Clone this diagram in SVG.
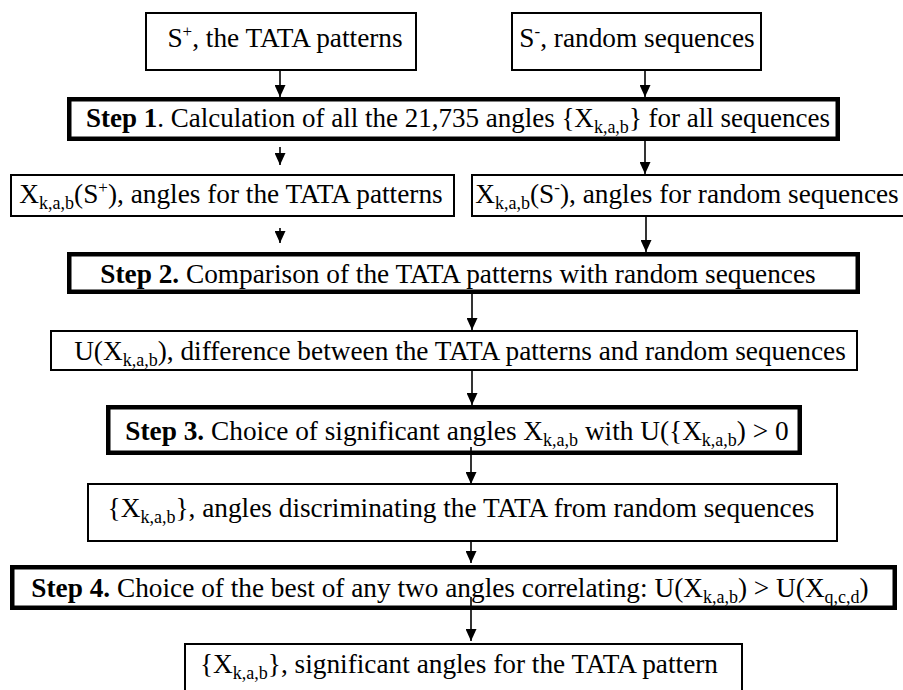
<svg xmlns="http://www.w3.org/2000/svg" width="903" height="690" viewBox="0 0 903 690">
<style>
.box{fill:#fff;stroke:#000;stroke-width:2}
.step{fill:#fff;stroke:#000;stroke-width:4.5}
.t{font-family:"Liberation Serif","Times New Roman",serif;font-size:27.3px;fill:#000;text-anchor:middle}
.b{font-weight:bold}
.s{font-size:18px}
.p{font-size:17px}
.c{stroke:#000;stroke-width:1.6;fill:none}
</style>
<defs>
<marker id="ah" markerUnits="userSpaceOnUse" markerWidth="13" markerHeight="11" refX="12" refY="5.5" orient="auto">
<path d="M0,0 L12,5.5 L0,11 Z" fill="#000"/>
</marker>
</defs>
<g id="n-splus">
<rect class="box" x="146" y="13" width="270" height="57"/>
<text class="t" x="285" y="47">S<tspan class="p" dy="-10">+</tspan><tspan dy="10">, the TATA patterns</tspan></text>
</g>
<g id="n-sminus">
<rect class="box" x="512" y="13" width="249" height="57"/>
<text class="t" x="637" y="47">S<tspan class="p" dy="-10">-</tspan><tspan dy="10">, random sequences</tspan></text>
</g>
<g id="n-step1">
<rect class="step" x="69.25" y="99.25" width="768.5" height="39.5"/>
<text class="t" x="458" y="127" style="font-size:27px"><tspan class="b">Step 1</tspan>. Calculation of all the 21,735 angles {X<tspan class="s" dy="5.5">k,a,b</tspan><tspan dy="-5.5">} for all sequences</tspan></text>
</g>
<g id="n-xplus">
<rect class="box" x="11" y="175" width="443" height="41"/>
<text class="t" x="231" y="203">X<tspan class="s" dy="5.5">k,a,b</tspan><tspan dy="-5.5">(S</tspan><tspan class="p" dy="-10">+</tspan><tspan dy="10">), angles for the TATA patterns</tspan></text>
</g>
<g id="n-xminus">
<rect class="box" x="472" y="175" width="440" height="41"/>
<text class="t" x="687" y="203">X<tspan class="s" dy="5.5">k,a,b</tspan><tspan dy="-5.5">(S</tspan><tspan class="p" dy="-10">-</tspan><tspan dy="10">), angles for random sequences</tspan></text>
</g>
<g id="n-step2">
<rect class="step" x="69.25" y="254.25" width="788.5" height="37.5"/>
<text class="t" x="458" y="283"><tspan class="b">Step 2.</tspan> Comparison of the TATA patterns with random sequences</text>
</g>
<g id="n-u">
<rect class="box" x="51" y="331" width="806" height="39"/>
<text class="t" x="460" y="360">U(X<tspan class="s" dy="5.5">k,a,b</tspan><tspan dy="-5.5">), difference between the TATA patterns and random sequences</tspan></text>
</g>
<g id="n-step3">
<rect class="step" x="108.25" y="407.25" width="691.5" height="45.5"/>
<text class="t" x="457" y="440"><tspan class="b">Step 3.</tspan> Choice of significant angles X<tspan class="s" dy="5.5">k,a,b</tspan><tspan dy="-5.5"> with U({X</tspan><tspan class="s" dy="5.5">k,a,b</tspan><tspan dy="-5.5">) &gt; 0</tspan></text>
</g>
<g id="n-discr">
<rect class="box" x="88" y="484" width="749" height="57"/>
<text class="t" x="461" y="517">{X<tspan class="s" dy="5.5">k,a,b</tspan><tspan dy="-5.5">}, angles discriminating the TATA from random sequences</tspan></text>
</g>
<g id="n-step4">
<rect class="step" x="12.25" y="567.25" width="882.5" height="40.5"/>
<text class="t" x="450" y="597"><tspan class="b">Step 4.</tspan> Choice of the best of any two angles correlating: U(X<tspan class="s" dy="5.5">k,a,b</tspan><tspan dy="-5.5">) &gt; U(X</tspan><tspan class="s" dy="5.5">q,c,d</tspan><tspan dy="-5.5">)</tspan></text>
</g>
<g id="n-final">
<rect class="box" x="185" y="644" width="557" height="60"/>
<text class="t" x="459" y="673">{X<tspan class="s" dy="5.5">k,a,b</tspan><tspan dy="-5.5">}, significant angles for the TATA pattern</tspan></text>
</g>
<g id="connectors">
<line class="c" x1="280" y1="70" x2="280" y2="97" marker-end="url(#ah)"/>
<line class="c" x1="645" y1="71" x2="645" y2="97" marker-end="url(#ah)"/>
<line class="c" x1="280" y1="147" x2="280" y2="165" marker-end="url(#ah)"/>
<line class="c" x1="645" y1="141" x2="645" y2="174" marker-end="url(#ah)"/>
<line class="c" x1="280" y1="228" x2="280" y2="243" marker-end="url(#ah)"/>
<line class="c" x1="646" y1="217" x2="646" y2="252" marker-end="url(#ah)"/>
<line class="c" x1="472" y1="294" x2="472" y2="330" marker-end="url(#ah)"/>
<line class="c" x1="472" y1="370" x2="472" y2="405" marker-end="url(#ah)"/>
<line class="c" x1="471" y1="447" x2="471" y2="484" marker-end="url(#ah)"/>
<line class="c" x1="471" y1="542" x2="471" y2="563" marker-end="url(#ah)"/>
<line class="c" x1="471" y1="597" x2="471" y2="641" marker-end="url(#ah)"/>
</g>
</svg>
